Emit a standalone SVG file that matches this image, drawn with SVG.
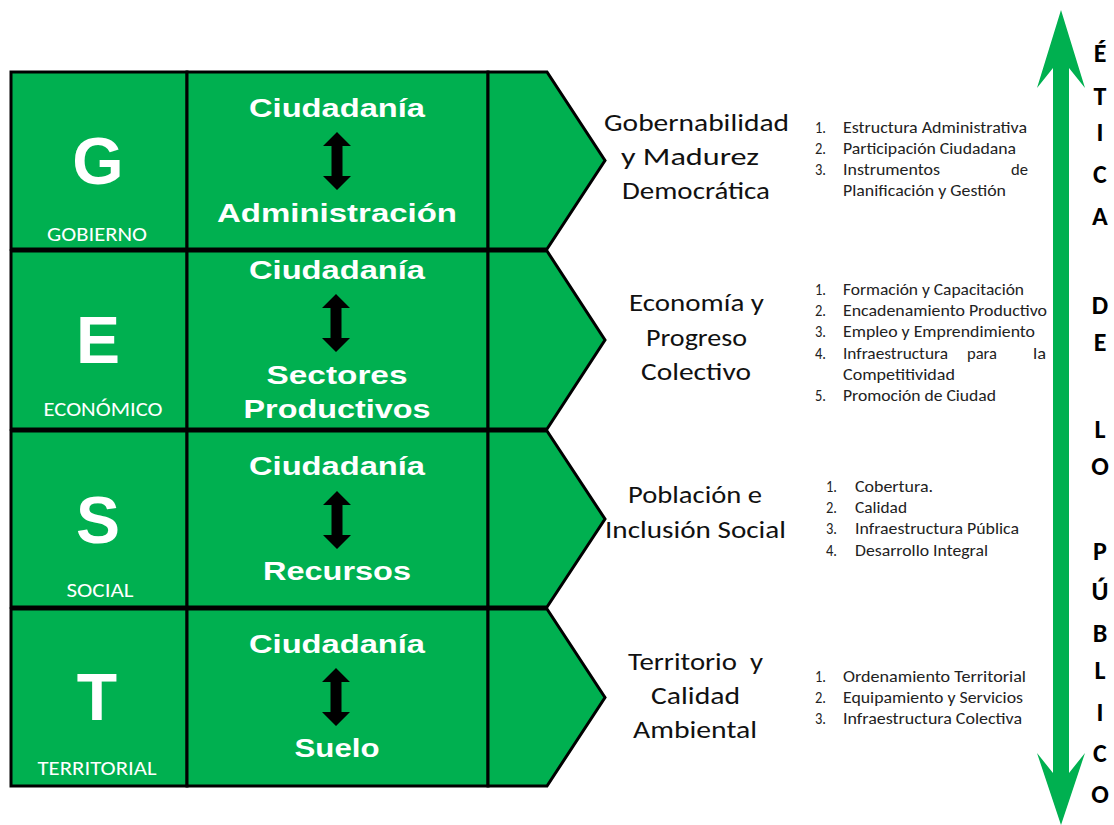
<svg xmlns="http://www.w3.org/2000/svg" width="1114" height="825" viewBox="0 0 1114 825">
<style>
.cell{fill:#00B050;stroke:#000;stroke-width:3;stroke-linejoin:miter}
.big{font-family:"Liberation Sans",Arial,sans-serif;font-weight:bold;font-size:66px;fill:#fff;text-anchor:middle}
.cap{font-family:Carlito,Lato,"Liberation Sans",sans-serif;font-size:19.5px;fill:#fff;text-anchor:middle}
.bw{font-family:"Liberation Sans",Arial,sans-serif;font-weight:bold;font-size:26px;fill:#fff;text-anchor:middle}
.lab{font-family:Carlito,Lato,"Liberation Sans",sans-serif;font-size:25px;fill:#111;text-anchor:middle}
.li{font-family:Carlito,Lato,"Liberation Sans",sans-serif;font-size:15.5px;fill:#222}
.vt{font-family:Carlito,Lato,"Liberation Sans",sans-serif;font-weight:bold;font-size:26px;fill:#000;text-anchor:middle}
</style>
<defs>
<path id="darr" d="M0,0 L14,14 L5.5,14 L5.5,44 L14,44 L0,58 L-14,44 L-5.5,44 L-5.5,14 L-14,14 Z" fill="#000"/>
</defs>

<g id="row-gobierno">
<rect class="cell" x="11" y="72" width="176" height="177"/>
<rect class="cell" x="187" y="72" width="301" height="177"/>
<polygon class="cell" points="488,72 547,72 605,160.5 547,249 488,249"/>
<text class="big" x="98" y="184">G</text>
<text class="cap" x="97" y="241" textLength="100" lengthAdjust="spacingAndGlyphs">GOBIERNO</text>
<text class="bw" x="337" y="117" textLength="176" lengthAdjust="spacingAndGlyphs">Ciudadanía</text>
<use href="#darr" x="337" y="132"/>
<text class="bw" x="337" y="222" textLength="240" lengthAdjust="spacingAndGlyphs">Administración</text>
</g>

<g id="row-economico">
<rect class="cell" x="11" y="251" width="176" height="178"/>
<rect class="cell" x="187" y="251" width="301" height="178"/>
<polygon class="cell" points="488,251 547,251 605,340 547,429 488,429"/>
<text class="big" x="98" y="363">E</text>
<text class="cap" x="103" y="416" textLength="119" lengthAdjust="spacingAndGlyphs">ECONÓMICO</text>
<text class="bw" x="337" y="279" textLength="176" lengthAdjust="spacingAndGlyphs">Ciudadanía</text>
<use href="#darr" x="336" y="294"/>
<text class="bw" x="337" y="384" textLength="141" lengthAdjust="spacingAndGlyphs">Sectores</text>
<text class="bw" x="337" y="418" textLength="187" lengthAdjust="spacingAndGlyphs">Productivos</text>
</g>

<g id="row-social">
<rect class="cell" x="11" y="431" width="176" height="176"/>
<rect class="cell" x="187" y="431" width="301" height="176"/>
<polygon class="cell" points="488,431 547,431 605,519 547,607 488,607"/>
<text class="big" x="98" y="543">S</text>
<text class="cap" x="100" y="597" textLength="67" lengthAdjust="spacingAndGlyphs">SOCIAL</text>
<text class="bw" x="337" y="475" textLength="176" lengthAdjust="spacingAndGlyphs">Ciudadanía</text>
<use href="#darr" x="337" y="491"/>
<text class="bw" x="337" y="580" textLength="148" lengthAdjust="spacingAndGlyphs">Recursos</text>
</g>

<g id="row-territorial">
<rect class="cell" x="11" y="609" width="176" height="177"/>
<rect class="cell" x="187" y="609" width="301" height="177"/>
<polygon class="cell" points="488,609 547,609 605,697.5 547,786 488,786"/>
<text class="big" x="97" y="720">T</text>
<text class="cap" x="97" y="775" textLength="119" lengthAdjust="spacingAndGlyphs">TERRITORIAL</text>
<text class="bw" x="337" y="653" textLength="176" lengthAdjust="spacingAndGlyphs">Ciudadanía</text>
<use href="#darr" x="336" y="668"/>
<text class="bw" x="337" y="757" textLength="85" lengthAdjust="spacingAndGlyphs">Suelo</text>
</g>

<g id="label-gobernabilidad">
<text class="lab" x="696.5" y="131" textLength="185" lengthAdjust="spacingAndGlyphs">Gobernabilidad</text>
<text class="lab" x="690" y="165" textLength="138" lengthAdjust="spacingAndGlyphs">y Madurez</text>
<text class="lab" x="696" y="199" textLength="148" lengthAdjust="spacingAndGlyphs">Democrática</text>
</g>
<g id="label-economia">
<text class="lab" x="696.5" y="311" textLength="135" lengthAdjust="spacingAndGlyphs">Economía y</text>
<text class="lab" x="696.5" y="346" textLength="101" lengthAdjust="spacingAndGlyphs">Progreso</text>
<text class="lab" x="696" y="380" textLength="110" lengthAdjust="spacingAndGlyphs">Colectivo</text>
</g>
<g id="label-poblacion">
<text class="lab" x="695" y="503" textLength="134" lengthAdjust="spacingAndGlyphs">Población e</text>
<text class="lab" x="695.5" y="538" textLength="181" lengthAdjust="spacingAndGlyphs">Inclusión Social</text>
</g>
<g id="label-territorio">
<text class="lab" x="695.5" y="670" xml:space="preserve" textLength="135" lengthAdjust="spacingAndGlyphs">Territorio  y</text>
<text class="lab" x="695.5" y="704" textLength="89" lengthAdjust="spacingAndGlyphs">Calidad</text>
<text class="lab" x="695" y="738" textLength="124" lengthAdjust="spacingAndGlyphs">Ambiental</text>
</g>

<g id="list-gobierno">
<text class="li" x="815" y="133" textLength="11" lengthAdjust="spacingAndGlyphs">1.</text>
<text class="li" x="843" y="133" textLength="184" lengthAdjust="spacingAndGlyphs">Estructura Administrativa</text>
<text class="li" x="815" y="154" textLength="11" lengthAdjust="spacingAndGlyphs">2.</text>
<text class="li" x="843" y="154" textLength="173" lengthAdjust="spacingAndGlyphs">Participación Ciudadana</text>
<text class="li" x="815" y="175" textLength="11" lengthAdjust="spacingAndGlyphs">3.</text>
<text class="li" x="843" y="175" textLength="97" lengthAdjust="spacingAndGlyphs">Instrumentos</text>
<text class="li" x="1011" y="175" textLength="17" lengthAdjust="spacingAndGlyphs">de</text>
<text class="li" x="843" y="196" textLength="163" lengthAdjust="spacingAndGlyphs">Planificación y Gestión</text>
</g>

<g id="list-economico">
<text class="li" x="815" y="295" textLength="11" lengthAdjust="spacingAndGlyphs">1.</text>
<text class="li" x="843" y="295" textLength="181" lengthAdjust="spacingAndGlyphs">Formación y Capacitación</text>
<text class="li" x="815" y="316" textLength="11" lengthAdjust="spacingAndGlyphs">2.</text>
<text class="li" x="843" y="316" textLength="204" lengthAdjust="spacingAndGlyphs">Encadenamiento Productivo</text>
<text class="li" x="815" y="337" textLength="11" lengthAdjust="spacingAndGlyphs">3.</text>
<text class="li" x="843" y="337" textLength="192" lengthAdjust="spacingAndGlyphs">Empleo y Emprendimiento</text>
<text class="li" x="815" y="359" textLength="11" lengthAdjust="spacingAndGlyphs">4.</text>
<text class="li" x="843" y="359" textLength="105" lengthAdjust="spacingAndGlyphs">Infraestructura</text>
<text class="li" x="967" y="359" textLength="30" lengthAdjust="spacingAndGlyphs">para</text>
<text class="li" x="1033" y="359" textLength="13" lengthAdjust="spacingAndGlyphs">la</text>
<text class="li" x="843" y="380" textLength="112" lengthAdjust="spacingAndGlyphs">Competitividad</text>
<text class="li" x="815" y="401" textLength="11" lengthAdjust="spacingAndGlyphs">5.</text>
<text class="li" x="843" y="401" textLength="153" lengthAdjust="spacingAndGlyphs">Promoción de Ciudad</text>
</g>

<g id="list-social">
<text class="li" x="826" y="492" textLength="11" lengthAdjust="spacingAndGlyphs">1.</text>
<text class="li" x="855" y="492" textLength="78" lengthAdjust="spacingAndGlyphs">Cobertura.</text>
<text class="li" x="826" y="513" textLength="11" lengthAdjust="spacingAndGlyphs">2.</text>
<text class="li" x="855" y="513" textLength="52" lengthAdjust="spacingAndGlyphs">Calidad</text>
<text class="li" x="826" y="534" textLength="11" lengthAdjust="spacingAndGlyphs">3.</text>
<text class="li" x="855" y="534" textLength="164" lengthAdjust="spacingAndGlyphs">Infraestructura Pública</text>
<text class="li" x="826" y="556" textLength="11" lengthAdjust="spacingAndGlyphs">4.</text>
<text class="li" x="855" y="556" textLength="133" lengthAdjust="spacingAndGlyphs">Desarrollo Integral</text>
</g>

<g id="list-territorial">
<text class="li" x="815" y="682" textLength="11" lengthAdjust="spacingAndGlyphs">1.</text>
<text class="li" x="843" y="682" textLength="183" lengthAdjust="spacingAndGlyphs">Ordenamiento Territorial</text>
<text class="li" x="815" y="703" textLength="11" lengthAdjust="spacingAndGlyphs">2.</text>
<text class="li" x="843" y="703" textLength="180" lengthAdjust="spacingAndGlyphs">Equipamiento y Servicios</text>
<text class="li" x="815" y="724" textLength="11" lengthAdjust="spacingAndGlyphs">3.</text>
<text class="li" x="843" y="724" textLength="179" lengthAdjust="spacingAndGlyphs">Infraestructura Colectiva</text>
</g>

<g id="connectors">
<polygon fill="#00B050" points="1061,10 1085,88 1069,68 1069,773 1085,753 1061,825 1037,753 1053,773 1053,68 1037,88"/>
</g>

<g id="etica-de-lo-publico">
<text class="vt" x="1100" y="62">É</text>
<text class="vt" x="1100" y="105">T</text>
<text class="vt" x="1100" y="141">I</text>
<text class="vt" x="1100" y="183">C</text>
<text class="vt" x="1100" y="225">A</text>
<text class="vt" x="1100" y="314">D</text>
<text class="vt" x="1100" y="351">E</text>
<text class="vt" x="1100" y="438">L</text>
<text class="vt" x="1100" y="475">O</text>
<text class="vt" x="1100" y="560">P</text>
<text class="vt" x="1100" y="600">Ú</text>
<text class="vt" x="1100" y="642">B</text>
<text class="vt" x="1100" y="679">L</text>
<text class="vt" x="1100" y="721">I</text>
<text class="vt" x="1100" y="762">C</text>
<text class="vt" x="1100" y="803">O</text>
</g>
</svg>
